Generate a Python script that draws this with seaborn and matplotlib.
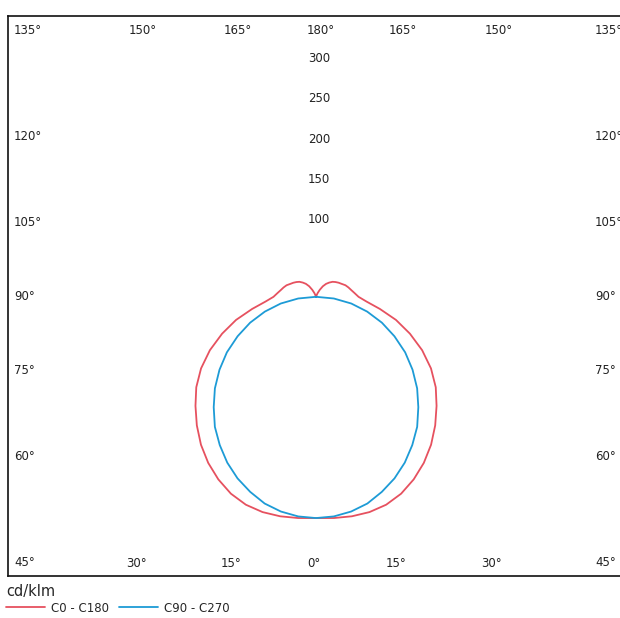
import numpy as np
import pandas as pd
import matplotlib
matplotlib.use("Agg")
import matplotlib.pyplot as plt
import seaborn as sns

# luminous intensity (cd/klm) against gamma angle
gamma = [0, 5, 10, 15, 20, 25, 30, 35, 40, 45, 50, 55, 60, 65, 70, 75, 80, 85, 90,
         95, 100, 105, 110, 115, 120, 125, 130, 135, 140, 145, 150, 155, 160, 165,
         170, 175, 180]
c0_c180 = [275, 276, 277, 277, 275, 270, 262, 252, 240, 226, 211, 196, 178, 157, 134,
           111, 87, 68, 57, 52, 48, 45, 42, 38, 35, 32, 29, 25, 21, 16, 10, 5, 1, 0,
           0, 0, 0]
c90_c270 = [275, 274, 271, 266, 258, 249, 238, 225, 211, 194, 177, 158, 138, 116, 94,
            71, 48, 24, 0, 0, 0, 0, 0, 0, 0, 0, 0, 0, 0, 0, 0, 0, 0, 0, 0, 0, 0]
plane_names = ["C0 - C180", "C90 - C270"]
plane_colors = ["#e6515f", "#1d9bd6"]

radial_ticks = [100, 150, 200, 250, 300]
side_angles = [135, 120, 105, 90, 75, 60, 45]
top_angles = [150, 165, 180]
bottom_angles = [0, 15, 30]

# pixel scale of the drawing (px per cd/klm)
SX, SY = 0.746, 0.805


def polar_frame(values, name):
    """Whole curve: C180 half on the left, C0 half on the right, 0 deg pointing down."""
    g = np.radians(np.array(gamma, dtype=float))
    r = np.array(values, dtype=float)
    x = np.concatenate([-(r * np.sin(g))[::-1], (r * np.sin(g))[1:]])
    y = np.concatenate([-(r * np.cos(g))[::-1], -(r * np.cos(g))[1:]])
    return pd.DataFrame({"x": x, "y": y, "plane": name})


df = pd.concat([polar_frame(c0_c180, plane_names[0]),
                polar_frame(c90_c270, plane_names[1])], ignore_index=True)

sns.set_style("white")
plt.rcParams["font.family"] = ["DejaVu Sans"]

fig = plt.figure(figsize=(6.2, 6.18), dpi=100)
ax = fig.add_axes([8 / 620, 42 / 618, 622 / 620, 560 / 618])

sns.lineplot(data=df, x="x", y="y", hue="plane", hue_order=plane_names,
             palette=plane_colors, sort=False, estimator=None, units="plane",
             linewidth=1.3, ax=ax, legend=False)

ax.set_xlim(-413, 421)
ax.set_ylim(-347, 349)
ax.set_xticks([])
ax.set_yticks([])
ax.set_xlabel("")
ax.set_ylabel("")
for sp in ax.spines.values():
    sp.set_color("#111111")
    sp.set_linewidth(1.2)

txt = dict(fontsize=8.5, color="#222222")

# intensity scale along the vertical axis
for v in radial_ticks:
    ax.text(4, v - 4, str(v), ha="center", va="center", **txt)

# angle labels around the frame
x_left = -302 / SX
x_right = 279 / SX
y_edge = 266 / SY
for a in side_angles:
    y = 277 / SY / np.tan(np.radians(a)) * -1 if a != 90 else 0
    y = float(np.clip(y, -y_edge, y_edge))
    ax.text(x_left, y, f"{a}°", ha="left", va="center", **txt)
    ax.text(x_right, y, f"{a}°", ha="left", va="center", **txt)
for a in top_angles:
    x = 308 / SX * np.tan(np.radians(180 - a))
    ax.text(-x + 6, y_edge, f"{a}°", ha="center", va="center", **txt)
    if a != 180:
        ax.text(x + 6, y_edge, f"{a}°", ha="center", va="center", **txt)
for a in bottom_angles:
    x = 308 / SX * np.tan(np.radians(a))
    ax.text(-x - 3, -y_edge - 1, f"{a}°", ha="center", va="center", **txt)
    if a != 0:
        ax.text(x - 3, -y_edge - 1, f"{a}°", ha="center", va="center", **txt)

handles = [plt.Line2D([], [], color=c, linewidth=1.3) for c in plane_colors]
leg = fig.legend(handles, plane_names, title="cd/klm", loc="upper left",
                 bbox_to_anchor=(5 / 620, 1 - 583 / 618), ncol=2, frameon=False,
                 fontsize=8.5, title_fontsize=10.5, alignment="left",
                 handlelength=3.3, handletextpad=0.5, columnspacing=0.85,
                 borderpad=0.1, borderaxespad=0, labelspacing=0.2)

fig.savefig("out.png", dpi=100)
